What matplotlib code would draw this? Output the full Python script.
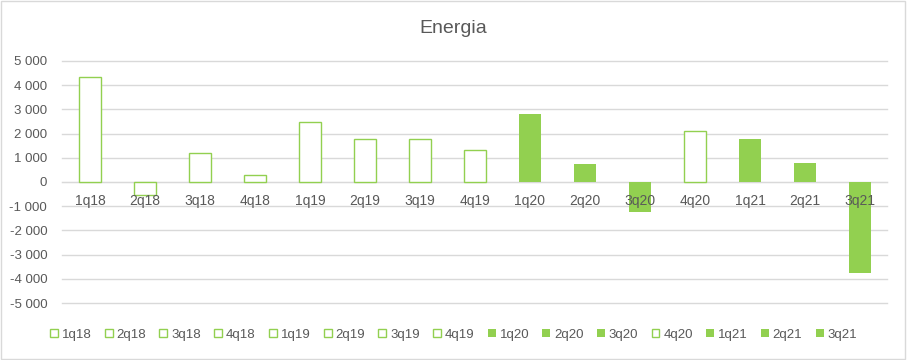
#!/usr/bin/env python3

import matplotlib
matplotlib.use('Agg')
import matplotlib.pyplot as plt
from matplotlib.patches import Rectangle
from matplotlib.ticker import FuncFormatter

quarters = ['1q18', '2q18', '3q18', '4q18', '1q19', '2q19', '3q19', '4q19',
            '1q20', '2q20', '3q20', '4q20', '1q21', '2q21', '3q21']
values = [4330, -550, 1190, 280, 2480, 1770, 1770, 1320,
          2810, 750, -1240, 2110, 1780, 790, -3750]
filled = [False, False, False, False, False, False, False, False,
          True, True, True, False, True, True, True]

green = '#92D050'
grey_txt = '#595959'
grid_col = '#D9D9D9'

plt.rcParams['font.family'] = ['Liberation Sans', 'DejaVu Sans']

fig = plt.figure(figsize=(9.07, 3.6), dpi=100)
ax = fig.add_axes([0.0689, 0.1583, 0.9096, 0.6723])

for i, (q, v, f) in enumerate(zip(quarters, values, filled)):
    ax.bar(i, v, width=0.41, color=green if f else 'white',
           edgecolor=green, linewidth=1.0 if not f else 0, label=q, zorder=3)
    # category labels sit just under the zero line, drawn over the bars
    ax.annotate(q, xy=(i, 0), xytext=(0, -14), textcoords='offset points',
                ha='center', va='center', fontsize=10, color=grey_txt, zorder=5)

ax.set_xlim(-0.5, len(quarters) - 0.5)
ax.set_ylim(-5000, 5000)
ax.set_yticks(range(-5000, 5001, 1000))
ax.yaxis.set_major_formatter(FuncFormatter(lambda v, p: f'{int(v):,}'.replace(',', ' ')))
ax.grid(axis='y', color=grid_col, linewidth=1, zorder=0)
for gl in ax.get_ygridlines():
    gl.set_clip_on(False)
ax.set_axisbelow(True)

for s in ['top', 'right', 'left']:
    ax.spines[s].set_visible(False)
ax.spines['bottom'].set_position(('data', 0))
ax.spines['bottom'].set_color(grid_col)

ax.set_xticks([])
ax.tick_params(axis='y', length=0, labelsize=9.5, colors=grey_txt, pad=11)

fig.text(0.5, 0.922, 'Energia', ha='center', va='center', fontsize=14, color=grey_txt)

fig.legend(loc='center', bbox_to_anchor=(0.5, 0.07), ncol=15, frameon=False,
           fontsize=9.5, handlelength=0.6, handleheight=0.6, handletextpad=0.3,
           columnspacing=1.0, labelcolor=grey_txt)

fig.patches.append(Rectangle((0.001, 0.002), 0.997, 0.995, transform=fig.transFigure,
                             fill=False, edgecolor=grid_col, linewidth=1))

fig.savefig('out.png', dpi=100, facecolor='white')
